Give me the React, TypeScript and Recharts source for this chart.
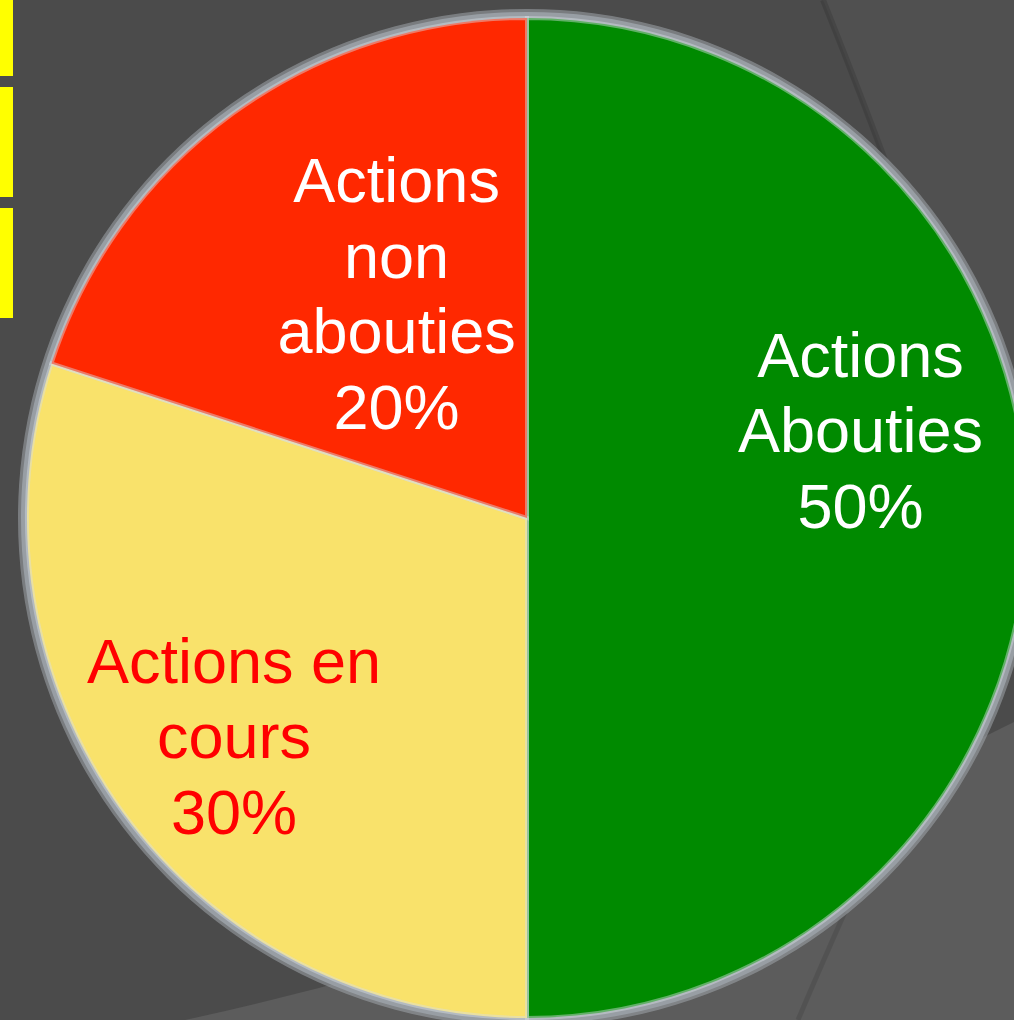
import { PieChart, Pie, Cell } from "recharts";

const CATEGORIES = ["Actions\nAbouties", "Actions en\ncours", "Actions\nnon\nabouties"];
const VALUES = [50, 30, 20];

const SLICE_COLORS = ["#008a00", "#f9e26b", "#ff2800"];
const LABEL_COLORS = ["#ffffff", "#ff0000", "#ffffff"];
// where each label sits: share of the radius, and turn away from the slice middle (deg)
const LABEL_PLACE = [
  { r: 0.69, shift: 14.8 },
  { r: 0.73, shift: 0.6 },
  { r: 0.52, shift: -5.9 },
];

const W = 1014;
const H = 1020;
const FONT = "'Liberation Sans', Arial, Helvetica, sans-serif";

const data = CATEGORIES.map((name, i) => ({ name, value: VALUES[i] }));
const total = VALUES.reduce((a, b) => a + b, 0);
const ring = [{ name: "ring", value: total }];

const renderLabel = (props: any) => {
  const { cx, cy, midAngle, outerRadius, index, value } = props;
  const place = LABEL_PLACE[index];
  const a = ((midAngle + place.shift) * Math.PI) / 180;
  const r = outerRadius * place.r;
  const x = cx + r * Math.cos(a);
  const y = cy - r * Math.sin(a);
  const lines = [...CATEGORIES[index].split("\n"), `${Math.round((value / total) * 100)}%`];
  const lh = 75.5;
  const first = y - ((lines.length - 1) / 2) * lh + 22.5;
  return (
    <text textAnchor="middle" fill={LABEL_COLORS[index]} fontSize={63} fontFamily={FONT}>
      {lines.map((l, i) => (
        <tspan key={i} x={x} y={first + i * lh}>
          {l}
        </tspan>
      ))}
    </text>
  );
};

function Backdrop() {
  return (
    <svg width={W} height={H} style={{ position: "absolute", left: 0, top: 0 }}>
      <rect x={0} y={0} width={W} height={H} fill="#4b4b4b" />
      <path d="M823,0 Q852,72 885,160 L1014,560 L1014,0 Z" fill="#505050" />
      <path d="M823,0 Q852,72 885,160" fill="none" stroke="rgba(0,0,0,0.12)" strokeWidth={6} />
      <path d="M185,1020 Q600,930 1014,722 L1014,1020 Z" fill="#5c5c5c" />
      <path d="M845,912 Q820,968 798,1020" fill="none" stroke="rgba(0,0,0,0.1)" strokeWidth={5} />
      <rect x={0} y={0} width={13} height={76} fill="#ffff00" />
      <rect x={0} y={87} width={13} height={110} fill="#ffff00" />
      <rect x={0} y={208} width={13} height={110} fill="#ffff00" />
    </svg>
  );
}

export default function App() {
  return (
    <div style={{ position: "absolute", left: 0, top: 0, width: W, height: H, overflow: "hidden" }}>
      <Backdrop />
      <div style={{ position: "absolute", left: 0, top: 0 }}>
        <PieChart width={W} height={H} margin={{ top: 0, right: 0, bottom: 0, left: 0 }}>
          <Pie
            data={ring}
            dataKey="value"
            cx={527}
            cy={518}
            outerRadius={509}
            startAngle={90}
            endAngle={-270}
            fill="rgba(160,166,172,0.55)"
            stroke="none"
            isAnimationActive={false}
          />
          <Pie
            data={ring}
            dataKey="value"
            cx={527}
            cy={518}
            outerRadius={506}
            startAngle={90}
            endAngle={-270}
            fill="#989ea4"
            stroke="none"
            isAnimationActive={false}
          />
          <Pie
            data={data}
            dataKey="value"
            nameKey="name"
            cx={527}
            cy={518}
            outerRadius={500}
            startAngle={90}
            endAngle={-270}
            stroke="rgba(215,222,228,0.45)"
            strokeWidth={4}
            label={renderLabel}
            labelLine={false}
            isAnimationActive={false}
          >
            {data.map((d, i) => (
              <Cell key={d.name} fill={SLICE_COLORS[i]} />
            ))}
          </Pie>
        </PieChart>
      </div>
    </div>
  );
}
